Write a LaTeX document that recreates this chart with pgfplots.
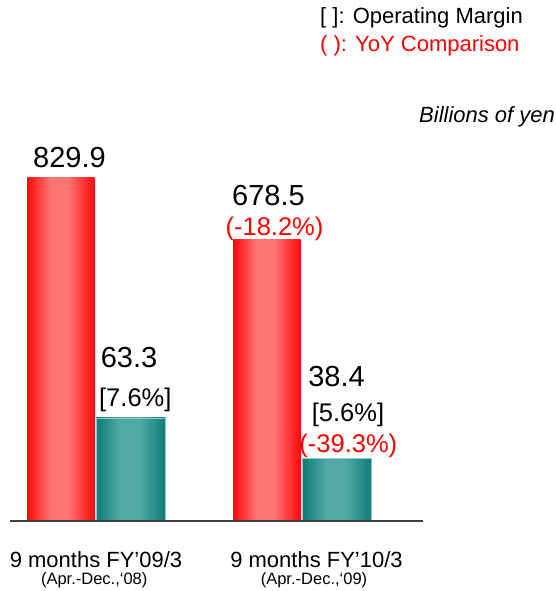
\documentclass[border=0pt]{standalone}
\usepackage{pgfplots}
\pgfplotsset{compat=1.18}
\usepackage{fontspec}
\setmainfont{Liberation Sans}
\definecolor{redE}{HTML}{FF0A0A}
\definecolor{redC}{HTML}{FF7575}
\definecolor{tealE}{HTML}{0E7C77}
\definecolor{tealC}{HTML}{52A8A5}
\definecolor{tealB}{HTML}{8ACFCB}
\definecolor{baseln}{HTML}{404040}
\definecolor{yoy}{HTML}{FF0000}
\pgfdeclarehorizontalshading{redbar}{100bp}{color(0bp)=(redE); color(25bp)=(redE); color(42bp)=(redC); color(55bp)=(redC); color(75bp)=(redE); color(100bp)=(redE)}
\pgfdeclarehorizontalshading{tealbar}{100bp}{color(0bp)=(tealE); color(25bp)=(tealE); color(42bp)=(tealC); color(56bp)=(tealC); color(75bp)=(tealE); color(100bp)=(tealE)}
\begin{document}
\begin{tikzpicture}
\useasboundingbox (0pt,0pt) rectangle (555pt,591pt);
\pgfplotsset{base/.style={at={(10pt,70pt)}, anchor=south west, scale only axis,
  width=413pt, height=421pt, xmin=-0.417, xmax=1.587, ymin=0,
  axis lines=none, clip=false, ybar},
  redstyle/.style={ybar, bar shift=-35pt, bar width=67pt, shading=redbar, draw=none},
  tealstyle/.style={ybar, bar shift=35pt, bar width=69.5pt, shading=tealbar, draw=tealB, line width=0.6pt}}
\begin{axis}[base, ymax=1016.4]
% Net sales (billions of yen)
\addplot[redstyle] coordinates {(0,829.9)};
\addplot[redstyle] coordinates {(1,678.5)};
\end{axis}
\begin{axis}[base, ymax=258.3]
% Operating income (billions of yen)
\addplot[tealstyle] coordinates {(0,63.3)};
\addplot[tealstyle] coordinates {(1,38.4)};
\draw[baseln, line width=1.3pt] (rel axis cs:0,0) -- (rel axis cs:1,0);
\end{axis}
% value labels
\tikzset{val/.style={anchor=base, inner sep=0pt, font=\fontsize{29}{31}\selectfont},
         pct/.style={anchor=base, inner sep=0pt, font=\fontsize{25.5}{27}\selectfont}}
\node[val] at (69.5pt,423pt) {829.9};
\node[val] at (268.5pt,385pt) {678.5};
\node[pct, text=yoy] at (274.5pt,355pt) {(-18.2\%)};
\node[val] at (129pt,223.3pt) {63.3};
\node[pct] at (135.3pt,184pt) {[7.6\%]};
\node[val] at (336.5pt,204pt) {38.4};
\node[pct] at (348pt,169.3pt) {[5.6\%]};
\node[pct, text=yoy] at (348.3pt,138.3pt) {(-39.3\%)};
% legend notes
\node[anchor=base west, inner sep=0pt, font=\fontsize{22}{24}\selectfont] at (320pt,567.7pt) {[ ]: Operating Margin};
\node[anchor=base west, inner sep=0pt, font=\fontsize{22}{24}\selectfont, text=yoy] at (320pt,539pt) {( ): YoY Comparison};
\node[anchor=base west, inner sep=0pt, font=\fontsize{22}{24}\selectfont\itshape] at (419pt,468pt) {Billions of yen};
% category labels
\node[anchor=base, inner sep=0pt, font=\fontsize{22}{24}\selectfont] at (96pt,23.6pt) {9 months FY’09/3};
\node[anchor=base, inner sep=0pt, font=\fontsize{16.5}{18}\selectfont] at (94.2pt,6.2pt) {(Apr.-Dec.,‘08)};
\node[anchor=base, inner sep=0pt, font=\fontsize{22}{24}\selectfont] at (316.5pt,23.6pt) {9 months FY’10/3};
\node[anchor=base, inner sep=0pt, font=\fontsize{16.5}{18}\selectfont] at (314pt,6.2pt) {(Apr.-Dec.,‘09)};
\end{tikzpicture}
\end{document}
